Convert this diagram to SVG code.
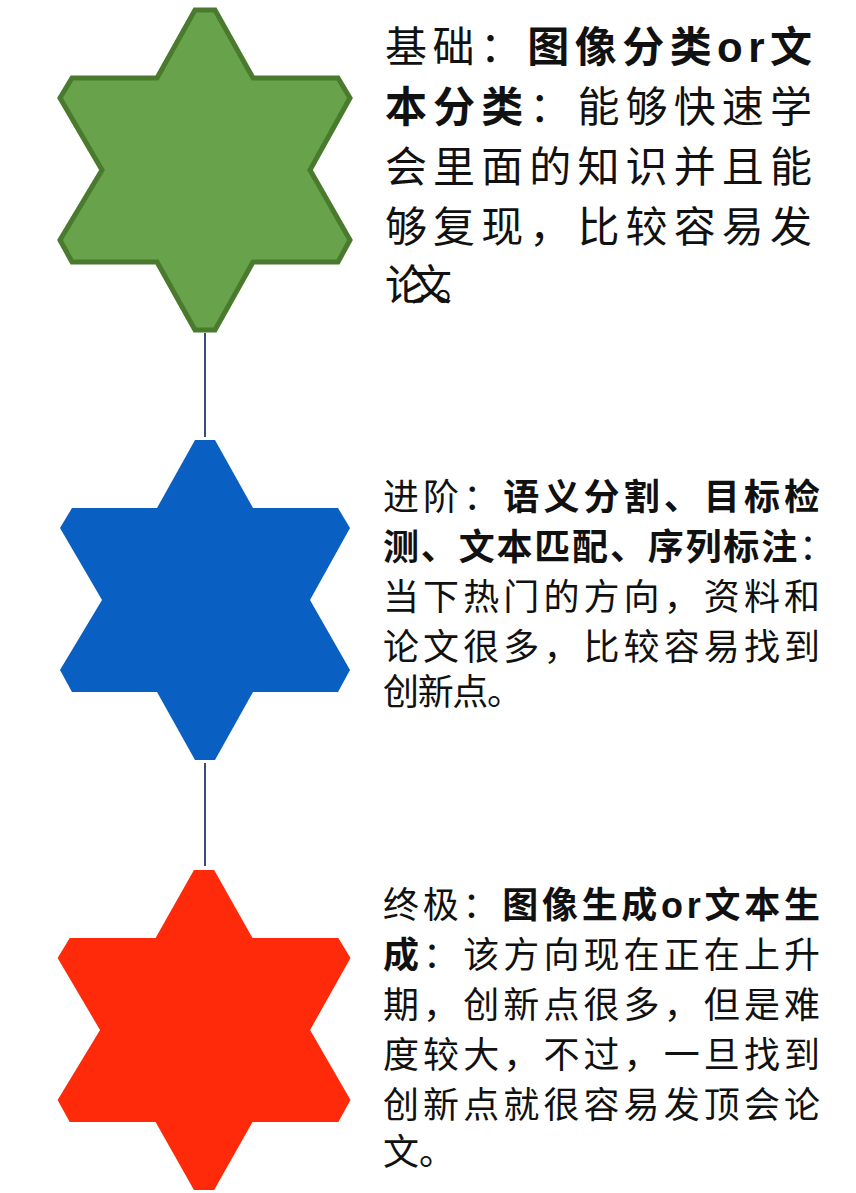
<svg xmlns="http://www.w3.org/2000/svg" width="856" height="1193" viewBox="0 0 856 1193">
<style>
text{font-family:"Liberation Sans","Noto Sans CJK SC",sans-serif;fill:#111}
.a{font-size:42px}.b{font-size:36px}
.k{font-weight:bold}
</style>
<defs>
<polygon id="star" points="195,10 215,10 253,78 338,78 350,98 310,170 350,240 338,262 253,262 215,330 195,330 157,262 72,262 60,240 102,170 60,98 72,78 157,78"/>
</defs>
<rect width="856" height="1193" fill="#fff"/>
<g id="connectors" stroke="#3c4a7a" stroke-width="2">
<line x1="205" y1="333" x2="205" y2="437"/>
<line x1="205" y1="763" x2="205" y2="866"/>
</g>
<g id="node1">
<use href="#star" fill="#68a24a" stroke="#4a7a2e" stroke-width="5"/>
<text class="a" x="385" y="62" textLength="427" lengthAdjust="spacing">基础：<tspan class="k">图像分类or文</tspan></text>
<text class="a" x="385" y="122" textLength="427" lengthAdjust="spacing"><tspan class="k">本分类</tspan>：能够快速学</text>
<text class="a" x="385" y="182" textLength="427" lengthAdjust="spacing">会里面的知识并且能</text>
<text class="a" x="385" y="242" textLength="427" lengthAdjust="spacing">够复现，比较容易发</text>
<text class="a" x="385" y="300" textLength="92" lengthAdjust="spacing">论文。</text>
</g>
<g id="node2">
<use href="#star" transform="translate(0,430)" fill="#0a5fc2"/>
<text class="b" x="383" y="510" textLength="437" lengthAdjust="spacing">进阶：<tspan class="k">语义分割、目标检</tspan></text>
<text class="b" x="383" y="560" textLength="452" lengthAdjust="spacing"><tspan class="k">测、文本匹配、序列标注</tspan>：</text>
<text class="b" x="383" y="610" textLength="437" lengthAdjust="spacing">当下热门的方向，资料和</text>
<text class="b" x="383" y="660" textLength="437" lengthAdjust="spacing">论文很多，比较容易找到</text>
<text class="b" x="383" y="705" textLength="140" lengthAdjust="spacing">创新点。</text>
</g>
<g id="node3">
<use href="#star" transform="translate(-3,860) scale(1.01,1)" fill="#ff2a0a"/>
<text class="b" x="383" y="918" textLength="437" lengthAdjust="spacing">终极：<tspan class="k">图像生成or文本生</tspan></text>
<text class="b" x="383" y="968" textLength="437" lengthAdjust="spacing"><tspan class="k">成</tspan>：该方向现在正在上升</text>
<text class="b" x="383" y="1018" textLength="437" lengthAdjust="spacing">期，创新点很多，但是难</text>
<text class="b" x="383" y="1068" textLength="437" lengthAdjust="spacing">度较大，不过，一旦找到</text>
<text class="b" x="383" y="1118" textLength="437" lengthAdjust="spacing">创新点就很容易发顶会论</text>
<text class="b" x="383" y="1165">文。</text>
</g>
</svg>
